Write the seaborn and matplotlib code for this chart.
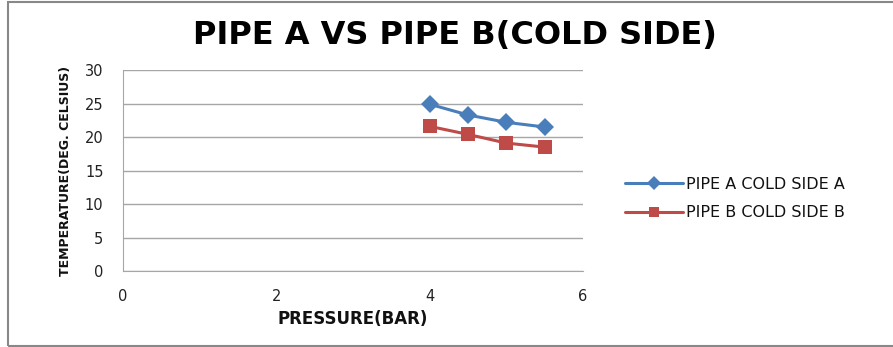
import matplotlib.pyplot as plt
import matplotlib.patches as mpatches
import pandas as pd
import seaborn as sns

pressure = [4, 4.5, 5, 5.5]
pipe_a = [24.9, 23.3, 22.2, 21.5]
pipe_b = [21.6, 20.4, 19.1, 18.5]
series_names = ['PIPE A COLD SIDE A', 'PIPE B COLD SIDE B']

df = pd.DataFrame({
    'pressure': pressure * 2,
    'temp': pipe_a + pipe_b,
    'series': [series_names[0]] * 4 + [series_names[1]] * 4,
})

sns.set_style('white')
plt.rcParams['font.family'] = ['DejaVu Sans']
plt.rcParams['text.color'] = '#111111'

fig = plt.figure(figsize=(8.93, 3.47), dpi=100)
ax = fig.add_axes([0.1377, 0.219, 0.5152, 0.579])

palette = {series_names[0]: '#4A7EBB', series_names[1]: '#BE4B48'}
markers = {series_names[0]: 'D', series_names[1]: 's'}
sns.lineplot(data=df, x='pressure', y='temp', hue='series', style='series',
             palette=palette, markers=markers, dashes=False, linewidth=2.2,
             markersize=9.5, markeredgewidth=0, ax=ax)

ax.set_xlim(0, 6)
ax.set_ylim(0, 30)
ax.set_xticks([0, 2, 4, 6])
ax.set_yticks(range(0, 31, 5))
ax.yaxis.grid(True, color='#a6a6a6', linewidth=1)
ax.xaxis.grid(False)
for side in ['top', 'right']:
    ax.spines[side].set_visible(False)
for side in ['left', 'bottom']:
    ax.spines[side].set_color('#a6a6a6')
ax.tick_params(axis='both', labelsize=10.5, colors='#222222', length=0)
ax.tick_params(axis='x', pad=13)
ax.tick_params(axis='y', pad=14)

ax.set_xlabel('PRESSURE(BAR)', fontsize=12, fontweight='bold', labelpad=4, color='#111111')
ax.set_ylabel('TEMPERATURE(DEG. CELSIUS)', fontsize=9, fontweight='bold', labelpad=9, color='#111111')

fig.text(0.51, 0.899, 'PIPE A VS PIPE B(COLD SIDE)', ha='center', va='center',
         fontsize=23, fontweight='bold', color='black')

handles, labels = ax.get_legend_handles_labels()
ax.legend(handles, labels, loc='center left', bbox_to_anchor=(1.06, 0.36),
          frameon=False, fontsize=11.5, handlelength=3.6, labelspacing=0.85,
          handletextpad=0.2, markerscale=0.8)

fig.patches.append(mpatches.Rectangle((0.009, 0.003), 1.2, 0.99, transform=fig.transFigure,
                                      fill=False, edgecolor='#888888', linewidth=1.5))

fig.savefig('out.png', dpi=100)
